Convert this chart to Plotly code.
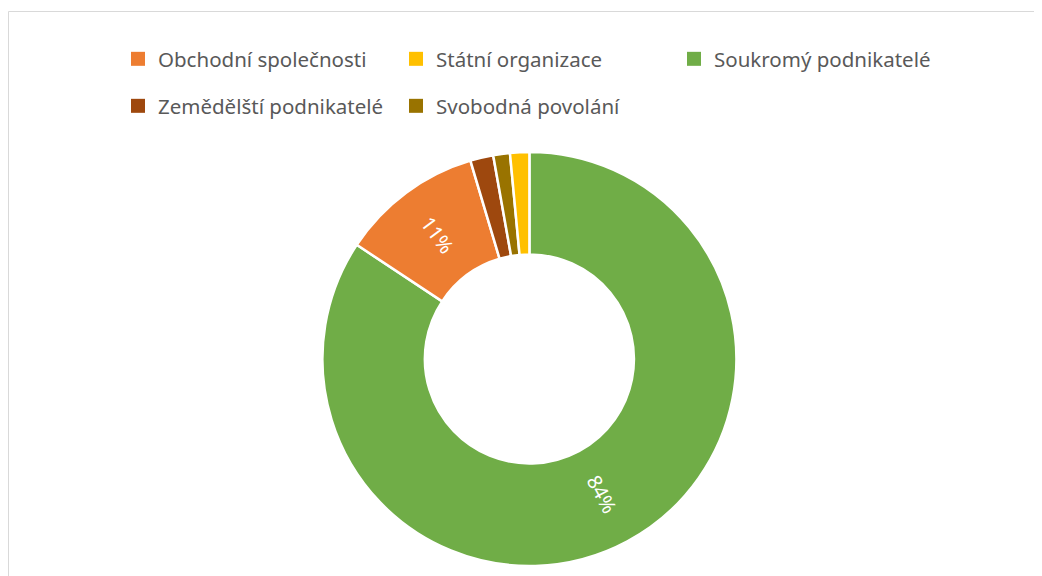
import math
import plotly.graph_objects as go

# slice order (clockwise from 12 o'clock)
pie_labels = ["Soukromý podnikatelé", "Obchodní společnosti", "Zemědělští podnikatelé",
              "Svobodná povolání", "Státní organizace"]
pie_values = [84.3, 11.1, 1.8, 1.3, 1.5]
pie_colors = ["#70AD47", "#ED7D31", "#9E480E", "#997300", "#FFC000"]

# legend order
legend_row1 = ["Obchodní společnosti", "Státní organizace", "Soukromý podnikatelé"]
legend_row2 = ["Zemědělští podnikatelé", "Svobodná povolání"]
color_map = dict(zip(pie_labels, pie_colors))

W, H = 1034, 568
FONT = "Noto Sans"
HOLE = 0.505

# pie geometry (figure pixels)
CX, CY, R = 521.4, 351.0, 207.0

total = sum(pie_values)
pct = [v / total for v in pie_values]

fig = go.Figure()
fig.add_trace(go.Pie(
    labels=pie_labels, values=pie_values, sort=False, direction="clockwise", rotation=0,
    hole=HOLE,
    marker=dict(colors=pie_colors, line=dict(color="white", width=2.5)),
    # the big slice's label is placed separately (Plotly would lay it flat)
    texttemplate=["", "%{percent:.0%}", "", "", ""],
    textposition="inside", insidetextorientation="radial",
    insidetextfont=dict(color="white", size=20, family=FONT),
    showlegend=False, hoverinfo="label+percent",
    domain=dict(x=[(CX - R) / W, (CX + R) / W], y=[(H - CY - R) / H, (H - CY + R) / H]),
))

# radial label for the largest slice, derived from its value
theta = math.radians(360 * pct[0] / 2)
rmid = R * (1 + HOLE) / 2 - 2
lx = CX + rmid * math.sin(theta)
ly = CY - rmid * math.cos(theta)
ang = math.degrees(theta) - 90
annotations = [dict(x=lx / W, y=1 - ly / H, xref="paper", yref="paper",
                    xanchor="center", yanchor="middle",
                    text=f"{round(pct[0] * 100)}%", showarrow=False, textangle=ang,
                    font=dict(color="white", size=20, family=FONT))]

for lab in legend_row1:
    fig.add_trace(go.Scatter(x=[None], y=[None], mode="markers", name=lab,
                             marker=dict(symbol="square", size=14, color=color_map[lab]),
                             legend="legend"))
for lab in legend_row2:
    fig.add_trace(go.Scatter(x=[None], y=[None], mode="markers", name=lab,
                             marker=dict(symbol="square", size=14, color=color_map[lab]),
                             legend="legend2"))

leg_common = dict(orientation="h", entrywidth=233, entrywidthmode="pixels",
                  font=dict(family=FONT, size=20.5, color="#595959"),
                  bgcolor="rgba(0,0,0,0)", xanchor="left", yanchor="middle")

fig.update_layout(
    width=W, height=H,
    margin=dict(l=0, r=0, t=0, b=0),
    paper_bgcolor="white", plot_bgcolor="white",
    xaxis=dict(visible=False), yaxis=dict(visible=False),
    legend=dict(x=110 / W, y=1 - 51 / H, **leg_common),
    legend2=dict(x=110 / W, y=1 - 98 / H, **leg_common),
    annotations=annotations,
    shapes=[dict(type="rect", xref="paper", yref="paper",
                 x0=0.5 / W, x1=1.05, y0=-0.05, y1=1 - 3.5 / H,
                 line=dict(color="#D9D9D9", width=1))],
)

fig.write_html("out.html")
